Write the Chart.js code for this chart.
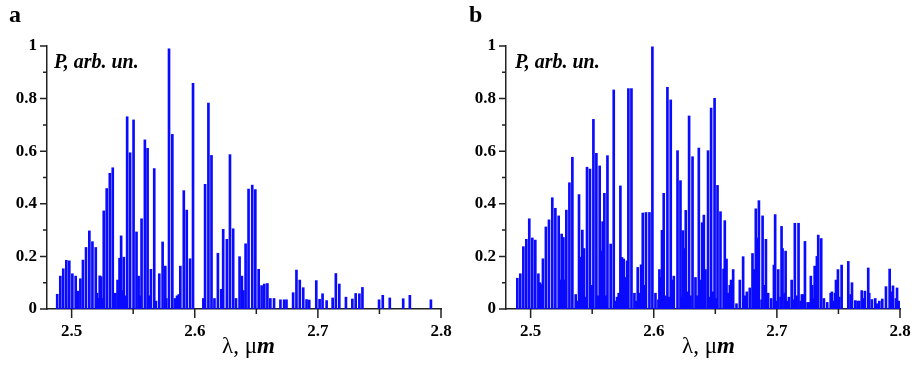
<!DOCTYPE html>
<html>
<head>
<meta charset="utf-8">
<script src="https://cdn.jsdelivr.net/npm/chart.js@4.4.1/dist/chart.umd.min.js"></script>
<style>
  body { margin: 0; background: #fff; width: 921px; height: 370px; position: relative; overflow: hidden; }
  .panel { position: absolute; top: 0; }
  .lbl { position: absolute; font-family: "Liberation Serif", "Times New Roman", serif; color: #000; white-space: nowrap; }
  .letter { font-weight: bold; font-size: 24px; top: 1px; }
  .ylab { font-weight: bold; font-style: italic; font-size: 20px; top: 50px; }
  .xlab { font-size: 23px; top: 333px; }
</style>
</head>
<body>
<div class="panel" style="left:0"><canvas id="chartA" width="460" height="370"></canvas></div>
<div class="panel" style="left:460px"><canvas id="chartB" width="461" height="370"></canvas></div>

<div class="lbl letter" style="left:9px">a</div>
<div class="lbl letter" style="left:469px">b</div>
<div class="lbl ylab" style="left:54px">P, arb. un.</div>
<div class="lbl ylab" style="left:515px">P, arb. un.</div>
<div class="lbl xlab" style="left:222px">λ, μ<b><i>m</i></b></div>
<div class="lbl xlab" style="left:682px">λ, μ<b><i>m</i></b></div>

<script>
// panel a: line positions (um) and relative power
const waveA = [
  2.4883, 2.4908, 2.4932, 2.4957, 2.4981, 2.5006, 2.5033, 2.5049, 2.5071, 2.5092,
  2.5117, 2.5144, 2.5169, 2.5196, 2.5206, 2.5215, 2.5228, 2.5239, 2.5249, 2.5261,
  2.5285, 2.5310, 2.5334, 2.5355, 2.5373, 2.5379, 2.5389, 2.5402, 2.5411, 2.5424,
  2.5436, 2.5451, 2.5475, 2.5503, 2.5527, 2.5544, 2.5554, 2.5568, 2.5595, 2.5617,
  2.5628, 2.5644, 2.5671, 2.5685, 2.5712, 2.5739, 2.5761, 2.5769, 2.5791, 2.5818,
  2.5840, 2.5856, 2.5870, 2.5883, 2.5911, 2.5935, 2.5962, 2.5986, 2.6070, 2.6084,
  2.6111, 2.6136, 2.6160, 2.6188, 2.6215, 2.6231, 2.6261, 2.6286, 2.6312, 2.6335,
  2.6364, 2.6383, 2.6394, 2.6413, 2.6437, 2.6467, 2.6492, 2.6519, 2.6543, 2.6565,
  2.6590, 2.6614, 2.6644, 2.6696, 2.6726, 2.6745, 2.6799, 2.6826, 2.6853, 2.6881,
  2.6908, 2.6930, 2.6987, 2.7014, 2.7038, 2.7071, 2.7120, 2.7146, 2.7174, 2.7228,
  2.7280, 2.7307, 2.7337, 2.7362, 2.7497, 2.7527, 2.7584, 2.7693, 2.7747, 2.7918
];
const powerA = [
  0.056, 0.125, 0.153, 0.185, 0.183, 0.134, 0.125, 0.068, 0.115, 0.186,
  0.234, 0.297, 0.256, 0.234, 0.060, 0.040, 0.126, 0.123, 0.040, 0.373,
  0.458, 0.516, 0.537, 0.060, 0.110, 0.070, 0.193, 0.278, 0.070, 0.197,
  0.050, 0.731, 0.594, 0.719, 0.293, 0.125, 0.050, 0.343, 0.643, 0.611,
  0.050, 0.151, 0.534, 0.030, 0.134, 0.255, 0.163, 0.040, 0.989, 0.664,
  0.040, 0.050, 0.055, 0.163, 0.450, 0.376, 0.191, 0.858, 0.040, 0.474,
  0.783, 0.584, 0.040, 0.212, 0.075, 0.303, 0.265, 0.587, 0.305, 0.040,
  0.199, 0.125, 0.070, 0.248, 0.456, 0.471, 0.454, 0.151, 0.089, 0.095,
  0.097, 0.040, 0.040, 0.035, 0.035, 0.035, 0.062, 0.148, 0.110, 0.081,
  0.036, 0.034, 0.108, 0.037, 0.058, 0.032, 0.042, 0.135, 0.095, 0.045,
  0.038, 0.059, 0.058, 0.082, 0.035, 0.052, 0.042, 0.039, 0.052, 0.035
];

// panel b
const waveB = [
  2.4892, 2.4916, 2.4941, 2.4965, 2.4989, 2.5014, 2.5038, 2.5063, 2.5076, 2.5089,
  2.5100, 2.5124, 2.5149, 2.5176, 2.5201, 2.5228, 2.5238, 2.5252, 2.5266, 2.5279,
  2.5290, 2.5315, 2.5339, 2.5366, 2.5380, 2.5393, 2.5407, 2.5420, 2.5433, 2.5447,
  2.5458, 2.5482, 2.5496, 2.5510, 2.5534, 2.5547, 2.5561, 2.5572, 2.5585, 2.5599,
  2.5612, 2.5624, 2.5650, 2.5675, 2.5691, 2.5702, 2.5715, 2.5729, 2.5742, 2.5756,
  2.5770, 2.5783, 2.5794, 2.5819, 2.5843, 2.5859, 2.5870, 2.5886, 2.5897, 2.5911,
  2.5924, 2.5937, 2.5965, 2.5989, 2.6014, 2.6038, 2.6046, 2.6059, 2.6067, 2.6081,
  2.6095, 2.6111, 2.6124, 2.6138, 2.6152, 2.6163, 2.6193, 2.6217, 2.6228, 2.6236,
  2.6246, 2.6260, 2.6271, 2.6287, 2.6298, 2.6315, 2.6339, 2.6352, 2.6366, 2.6380,
  2.6393, 2.6407, 2.6420, 2.6441, 2.6455, 2.6466, 2.6480, 2.6494, 2.6507, 2.6518,
  2.6542, 2.6567, 2.6577, 2.6591, 2.6604, 2.6618, 2.6628, 2.6645, 2.6672, 2.6699,
  2.6726, 2.6740, 2.6756, 2.6780, 2.6802, 2.6815, 2.6829, 2.6846, 2.6854, 2.6876,
  2.6884, 2.6902, 2.6911, 2.6929, 2.6954, 2.6976, 2.6986, 2.6998, 2.7011, 2.7030,
  2.7038, 2.7046, 2.7063, 2.7071, 2.7084, 2.7098, 2.7120, 2.7133, 2.7146, 2.7160,
  2.7176, 2.7193, 2.7203, 2.7214, 2.7228, 2.7250, 2.7268, 2.7276, 2.7287, 2.7295,
  2.7307, 2.7317, 2.7325, 2.7336, 2.7360, 2.7382, 2.7409, 2.7437, 2.7447, 2.7458,
  2.7472, 2.7480, 2.7496, 2.7507, 2.7526, 2.7580, 2.7599, 2.7610, 2.7637, 2.7656,
  2.7669, 2.7689, 2.7702, 2.7715, 2.7742, 2.7750, 2.7772, 2.7799, 2.7813, 2.7832,
  2.7856, 2.7886, 2.7916, 2.7929, 2.7943, 2.7967, 2.7976, 2.7989
];
const powerB = [
  0.117, 0.134, 0.237, 0.265, 0.343, 0.270, 0.262, 0.134, 0.100, 0.093,
  0.191, 0.312, 0.339, 0.423, 0.383, 0.354, 0.110, 0.285, 0.272, 0.110,
  0.376, 0.480, 0.577, 0.055, 0.030, 0.435, 0.197, 0.300, 0.230, 0.045,
  0.539, 0.532, 0.090, 0.721, 0.592, 0.050, 0.544, 0.220, 0.332, 0.440,
  0.050, 0.583, 0.247, 0.833, 0.030, 0.045, 0.060, 0.468, 0.196, 0.190,
  0.120, 0.183, 0.838, 0.838, 0.060, 0.030, 0.158, 0.060, 0.168, 0.365,
  0.090, 0.367, 0.367, 0.997, 0.060, 0.035, 0.150, 0.120, 0.299, 0.440,
  0.050, 0.843, 0.045, 0.795, 0.110, 0.125, 0.602, 0.488, 0.045, 0.298,
  0.230, 0.375, 0.065, 0.734, 0.050, 0.579, 0.120, 0.050, 0.612, 0.110,
  0.328, 0.357, 0.150, 0.602, 0.045, 0.764, 0.065, 0.801, 0.040, 0.470,
  0.370, 0.152, 0.336, 0.190, 0.060, 0.090, 0.110, 0.150, 0.020, 0.110,
  0.199, 0.050, 0.065, 0.080, 0.211, 0.150, 0.381, 0.270, 0.412, 0.035,
  0.354, 0.090, 0.265, 0.060, 0.040, 0.167, 0.359, 0.030, 0.150, 0.045,
  0.314, 0.230, 0.060, 0.220, 0.030, 0.045, 0.110, 0.035, 0.326, 0.050,
  0.326, 0.030, 0.055, 0.055, 0.257, 0.025, 0.025, 0.125, 0.090, 0.040,
  0.163, 0.050, 0.200, 0.281, 0.268, 0.040, 0.025, 0.060, 0.065, 0.030,
  0.060, 0.110, 0.150, 0.045, 0.167, 0.181, 0.055, 0.100, 0.032, 0.030,
  0.030, 0.070, 0.040, 0.068, 0.156, 0.060, 0.036, 0.040, 0.020, 0.030,
  0.038, 0.085, 0.152, 0.065, 0.088, 0.040, 0.080, 0.030
];

// axis ticks
const xMajor = [2.5, 2.6, 2.7, 2.8];
const xMinor = [2.55, 2.65, 2.75];
const yMajor = [0, 0.2, 0.4, 0.6, 0.8, 1];
const yMinor = [0.1, 0.3, 0.5, 0.7, 0.9];

const tickFont = { family: '"Liberation Serif", "Times New Roman", serif', size: 17, weight: 'bold' };

// draws the outward major/minor tick marks
const tickMarks = {
    id: 'tickMarks',
    afterDraw(chart) {
        const { ctx, chartArea: a, scales: { x, y } } = chart;
        ctx.save();
        ctx.strokeStyle = '#222';
        ctx.lineWidth = 1.5;
        ctx.beginPath();
        xMajor.forEach(v => { const px = x.getPixelForValue(v); ctx.moveTo(px, a.bottom); ctx.lineTo(px, a.bottom + 9); });
        xMinor.forEach(v => { const px = x.getPixelForValue(v); ctx.moveTo(px, a.bottom); ctx.lineTo(px, a.bottom + 5); });
        yMajor.forEach(v => { const py = y.getPixelForValue(v); ctx.moveTo(a.left, py); ctx.lineTo(a.left - 7, py); });
        yMinor.forEach(v => { const py = y.getPixelForValue(v); ctx.moveTo(a.left, py); ctx.lineTo(a.left - 4, py); });
        ctx.stroke();
        ctx.restore();
    }
};

function makeChart(id, waves, powers, leftW, rightPad) {
    new Chart(document.getElementById(id), {
        type: 'bar',
        data: {
            datasets: [{
                data: waves.map((w, i) => ({ x: w, y: powers[i] })),
                backgroundColor: '#0a0aff',
                barThickness: 2,
                borderWidth: 0
            }]
        },
        options: {
            responsive: false,
            animation: false,
            layout: { padding: { top: 46, right: rightPad, left: 0, bottom: 0 } },
            plugins: { legend: { display: false }, tooltip: { enabled: false } },
            scales: {
                x: {
                    type: 'linear',
                    offset: false,
                    min: 2.48,
                    max: 2.8,
                    afterBuildTicks: s => { s.ticks = xMajor.map(v => ({ value: v })); },
                    afterFit: s => { s.height = 61; s.paddingLeft = 0; s.paddingRight = 0; },
                    grid: { display: false, drawTicks: false, offset: false },
                    border: { display: true, color: '#222', width: 1.5 },
                    ticks: { font: tickFont, color: '#000', padding: 12, maxRotation: 0, callback: v => v.toFixed(1) }
                },
                y: {
                    min: 0,
                    max: 1,
                    afterBuildTicks: s => { s.ticks = yMajor.map(v => ({ value: v })); },
                    afterFit: s => { s.width = leftW; s.paddingTop = 0; s.paddingBottom = 0; },
                    grid: { display: false, drawTicks: false },
                    border: { display: true, color: '#222', width: 1.5 },
                    ticks: { font: tickFont, color: '#000', padding: 10, callback: v => String(+v.toFixed(1)) }
                }
            }
        },
        plugins: [tickMarks]
    });
}

makeChart('chartA', waveA, powerA, 47, 19);
makeChart('chartB', waveB, powerB, 46, 21);
</script>
</body>
</html>
